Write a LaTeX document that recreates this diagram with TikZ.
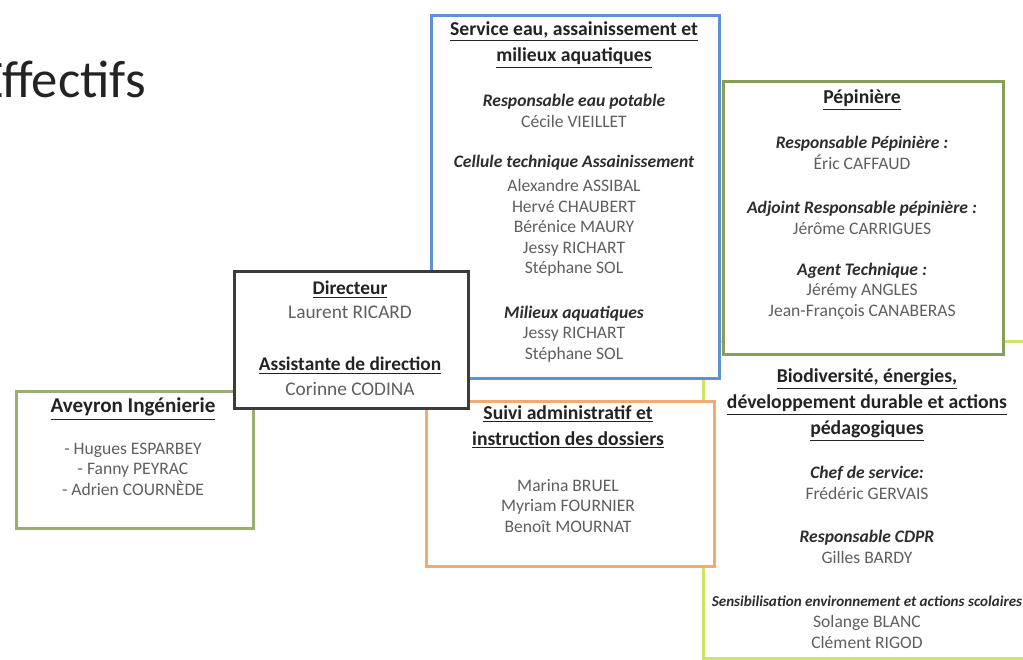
\documentclass[tikz,border=0pt]{standalone}
\usepackage{fontspec}
\setmainfont{Carlito}
\usetikzlibrary{positioning}

\definecolor{svcblue}{RGB}{95,145,210}
\definecolor{pepgreen}{RGB}{135,160,85}
\definecolor{dirgray}{RGB}{60,60,60}
\definecolor{avgreen}{RGB}{155,175,110}
\definecolor{suiviorange}{RGB}{240,170,115}
\definecolor{biogreen}{RGB}{205,228,100}
\definecolor{titlegray}{RGB}{35,35,35}
\definecolor{hdrgray}{RGB}{45,45,45}
\definecolor{namegray}{RGB}{95,95,95}

\newcommand{\grouphead}[1]{{\bfseries\itshape\color{hdrgray}#1}}
\newcommand{\titleline}[1]{\underline{#1}}

\begin{document}
\begin{tikzpicture}[
    x=0.02cm, y=-0.02cm,
    org box/.style={rectangle,draw,line width=1.6pt,fill=white,anchor=north west,inner sep=0pt},
    title node/.style={align=center,inner sep=0pt,text=titlegray,font=\bfseries\fontsize{11.2}{14.8}\selectfont},
    group node/.style={align=center,inner sep=0pt,text=namegray,font=\fontsize{10}{11.7}\selectfont},
    dir node/.style={align=center,inner sep=0pt,text=namegray,font=\fontsize{11}{14}\selectfont}
]
\useasboundingbox[fill=white] (0,0) rectangle (1023,659);

% Title
\node[anchor=base west,inner sep=0pt,text=titlegray,font=\fontsize{30}{34}\selectfont] (pagetitle) at (-22,97) {Effectifs};

% Biodiversite (behind the others)
\node[org box,draw=biogreen,minimum width=6.66cm,minimum height=6.34cm] (bio) at (702,340) {};
\node[title node] (bio-t) at (867,405) {\titleline{Biodiversité, énergies,}\\\titleline{développement durable et actions}\\\titleline{pédagogiques}};
\node[group node] (bio-g1) at (867,483) {\grouphead{Chef de service:}\\Frédéric GERVAIS};
\node[group node] (bio-g2) at (867,547) {\grouphead{Responsable CDPR}\\Gilles BARDY};
\node[group node,font=\fontsize{8.6}{11.7}\selectfont] (bio-g3) at (867,622) {\grouphead{Sensibilisation environnement et actions scolaires}\\[0.5pt]\fontsize{10}{11.7}\selectfont Solange BLANC\\\fontsize{10}{11.7}\selectfont Clément RIGOD};

% Pepiniere
\node[org box,draw=pepgreen,minimum width=5.6cm,minimum height=5.46cm] (pep) at (722,80) {};
\node[title node] (pep-t) at (862,100) {\titleline{Pépinière}};
\node[group node] (pep-g1) at (862,153) {\grouphead{Responsable Pépinière :}\\Éric CAFFAUD};
\node[group node] (pep-g2) at (862,218) {\grouphead{Adjoint Responsable pépinière :}\\Jérôme CARRIGUES};
\node[group node] (pep-g3) at (862,291) {\grouphead{Agent Technique :}\\Jérémy ANGLES\\Jean-François CANABERAS};

% Service eau
\node[org box,draw=svcblue,minimum width=5.76cm,minimum height=7.26cm] (svc) at (430,14) {};
\node[title node] (svc-t) at (574,45) {\titleline{Service eau, assainissement et}\\\titleline{milieux aquatiques}};
\node[group node] (svc-g1) at (574,111) {\grouphead{Responsable eau potable}\\Cécile VIEILLET};
\node[group node] (svc-g2) at (574,216) {\grouphead{Cellule technique Assainissement}\\[2pt]Alexandre ASSIBAL\\Hervé CHAUBERT\\Bérénice MAURY\\Jessy RICHART\\Stéphane SOL};
\node[group node] (svc-g3) at (574,334) {\grouphead{Milieux aquatiques}\\Jessy RICHART\\Stéphane SOL};

% Suivi administratif
\node[org box,draw=suiviorange,minimum width=5.76cm,minimum height=3.3cm] (suivi) at (425,400) {};
\node[title node] (suivi-t) at (568,427) {\titleline{Suivi administratif et}\\\titleline{instruction des dossiers}};
\node[group node] (suivi-g) at (568,506) {Marina BRUEL\\Myriam FOURNIER\\Benoît MOURNAT};

% Aveyron Ingenierie
\node[org box,draw=avgreen,minimum width=4.74cm,minimum height=2.74cm] (avey) at (15,390) {};
\node[title node,font=\bfseries\fontsize{12}{14.8}\selectfont] (avey-t) at (133,409) {\titleline{Aveyron Ingénierie}};
\node[group node] (avey-g) at (133,469) {- Hugues ESPARBEY\\- Fanny PEYRAC\\- Adrien COURNÈDE};

% Directeur
\node[org box,draw=dirgray,minimum width=4.68cm,minimum height=2.74cm] (dir) at (233,270) {};
\node[title node,font=\bfseries\fontsize{11}{14}\selectfont] (dir-t1) at (350,290) {\titleline{Directeur}};
\node[dir node,below=4pt of dir-t1] (dir-n1) {Laurent RICARD};
\node[title node,font=\bfseries\fontsize{11}{14}\selectfont] (dir-t2) at (350,366) {\titleline{Assistante de direction}};
\node[dir node,below=4pt of dir-t2] (dir-n2) {Corinne CODINA};

\end{tikzpicture}
\end{document}
